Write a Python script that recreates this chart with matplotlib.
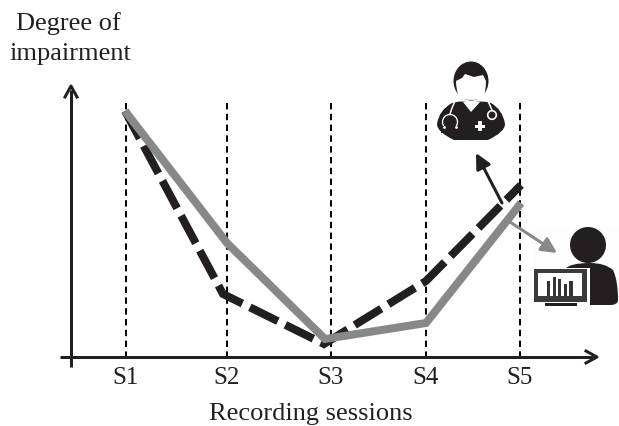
import matplotlib
matplotlib.use("Agg")
import matplotlib.pyplot as plt
from matplotlib.patches import Ellipse, Circle, Rectangle, Polygon, PathPatch, FancyArrowPatch
from matplotlib.path import Path

plt.rcParams['font.family'] = ['Liberation Serif', 'DejaVu Serif']

sessions = ["S1", "S2", "S3", "S4", "S5"]
session_x = [126, 227, 331, 426, 520]
gray_x = [125, 227, 325, 426, 521]
gray_y = [111, 243, 339, 323, 203]
black_x = [125, 223, 324, 426, 521]
black_y = [111, 294, 344, 281, 185]
monitor_bars = [15, 19, 17, 12, 15]

DARK = "#231f20"
GRAY = "#87888a"

fig = plt.figure(figsize=(6.19, 4.26), dpi=100)
ax = fig.add_axes([0, 0, 1, 1])
ax.set_xlim(0, 619)
ax.set_ylim(426, 0)
ax.axis("off")
px = 0.72  # one pixel in points

# session guides
for x in session_x:
    ax.plot([x, x], [103, 357], color="black", lw=2 * px,
            linestyle=(0, (3.2, 2.2)), dash_capstyle="butt", zorder=1)

# axes
ax.plot([71, 71], [367, 90], color=DARK, lw=3 * px, zorder=2, solid_capstyle="butt")
ax.plot([60, 593], [357, 357], color=DARK, lw=3 * px, zorder=2, solid_capstyle="butt")
ax.plot([65, 71, 77], [97, 86, 97], color=DARK, lw=3 * px, zorder=2)
ax.plot([586, 597, 586], [351, 357, 363], color=DARK, lw=3 * px, zorder=2)

# series
ax.plot(black_x, black_y, color=DARK, lw=8 * px, linestyle=(0, (3.9, 1.05)),
        dash_capstyle="butt", dash_joinstyle="miter", zorder=3)
ax.plot(gray_x, gray_y, color=GRAY, lw=8 * px, solid_joinstyle="miter",
        solid_capstyle="butt", zorder=4)

# text
ax.text(68, 24, "Degree of", fontsize=19, ha="center", va="center", color=DARK)
ax.text(70, 54, "impairment", fontsize=19, ha="center", va="center", color=DARK)
for x, s in zip(session_x, sessions):
    ax.text(x, 378, s, fontsize=18, ha="center", va="center", color=DARK)
ax.text(311, 420, "Recording sessions", fontsize=19, ha="center", va="baseline",
        color=DARK, clip_on=False)

# pointer arrows
ax.add_patch(FancyArrowPatch((502, 203), (476, 153), arrowstyle="-|>", mutation_scale=23,
                             color=DARK, lw=3 * px, shrinkA=0, shrinkB=0, zorder=5))

# doctor icon
Z = 6
body = Path([(437, 124), (439, 110), (452, 103), (462, 100), (471, 103), (481, 100),
             (491, 103), (503, 110), (505, 124), (505, 132), (488, 140), (471, 140),
             (454, 140), (437, 132), (437, 124)],
            [Path.MOVETO] + [Path.CURVE3] * 14)
ax.add_patch(PathPatch(body, fc=DARK, ec="none", zorder=Z))
ax.add_patch(Ellipse((471, 81), 35, 39, fc=DARK, ec="none", zorder=Z))
face = Path([(456, 81), (462, 78), (465, 74), (474, 77), (483, 75), (486, 81),
             (486, 92), (483, 98), (471, 102), (459, 98), (456, 90), (456, 81)],
            [Path.MOVETO] + [Path.LINETO] * 5 + [Path.CURVE3] * 6)
ax.add_patch(PathPatch(face, fc="white", ec="none", zorder=Z + 1))
ax.add_patch(Polygon([(463, 102), (480, 102), (471, 112)], fc="white", ec="none", zorder=Z + 1))
ax.add_patch(Rectangle((475, 124.5), 10, 3.5, fc="white", ec="none", zorder=Z + 1))
ax.add_patch(Rectangle((478.3, 121), 3.5, 10, fc="white", ec="none", zorder=Z + 1))
ax.plot([455, 452, 450], [101, 108, 114], color="white", lw=1.5 * px, zorder=Z + 1)
ax.add_patch(Ellipse((450, 122), 15, 15, fc="none", ec="white", lw=1.3 * px, zorder=Z + 1))
ax.add_patch(Rectangle((441, 126), 19, 7, fc=DARK, ec="none", zorder=Z + 2))
ax.plot([444, 456], [127, 127], "o", color="white", ms=2, zorder=Z + 3, mew=0)
ax.plot([488, 492], [101, 110], color="white", lw=1.5 * px, zorder=Z + 1)
ax.add_patch(Circle((492, 115), 4.3, fc=DARK, ec="white", lw=1.6 * px, zorder=Z + 1))

# analyst icon
ax.add_patch(Rectangle((534, 227), 85, 78, fc="#fdfdfd", ec="none", zorder=4.5))
ax.add_patch(FancyArrowPatch((510, 222), (557, 253), arrowstyle="-|>", mutation_scale=23,
                             color=GRAY, lw=3 * px, shrinkA=0, shrinkB=0, zorder=5))
ax.add_patch(Circle((588, 245), 18, fc=DARK, ec="none", zorder=Z + 1))
shoulders = Path([(565, 269), (570, 263), (590, 263), (605, 263), (613, 270), (618, 280),
                  (618, 300), (618, 305), (610, 305), (565, 305), (565, 269)],
                 [Path.MOVETO] + [Path.CURVE3] * 8 + [Path.LINETO] * 2)
ax.add_patch(PathPatch(shoulders, fc=DARK, ec="none", zorder=Z + 1))
ax.add_patch(Rectangle((534, 268), 56, 37, fc="white", ec="none", zorder=Z + 2))
ax.add_patch(Rectangle((534, 269), 53, 33, fc="#3a3a3a", ec="none", zorder=Z + 2))
ax.add_patch(Rectangle((538, 273), 44, 23, fc="white", ec="none", zorder=Z + 3))
ax.add_patch(Rectangle((545, 303), 32, 3, fc=DARK, ec="none", zorder=Z + 3))
for i, h in enumerate(monitor_bars):
    ax.bar(548.5 + i * 5.6, -h, width=3.2, bottom=296, color="#333333", zorder=Z + 4)

ax.set_xlim(0, 619)
ax.set_ylim(426, 0)
fig.savefig("out.png", dpi=100, facecolor="white")
